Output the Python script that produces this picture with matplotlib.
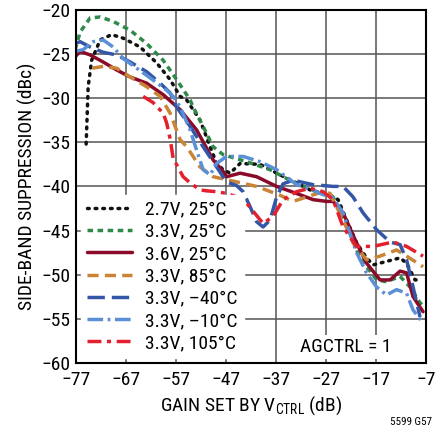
import matplotlib
matplotlib.use("Agg")
import matplotlib.pyplot as plt

plt.rcParams['font.family'] = ['Roboto Condensed', 'DejaVu Sans']

labels = ["2.7V, 25°C", "3.3V, 25°C", "3.6V, 25°C", "3.3V, 85°C",
          "3.3V, –40°C", "3.3V, –10°C", "3.3V, 105°C"]

x_27_25 = [-75.0, -74.6, -73.9, -72.2, -69.9, -67.6, -64.2, -60.9, -58.2, -56.2, -54.9, -52.2, -50.2, -48.9, -47.6, -46.2, -44.2, -40.2, -36.2, -32.9, -30.2, -26.2, -24.6, -22.9, -20.9, -18.9, -17.6, -14.9, -12.2, -10.9, -9.2, -7.9]
y_27_25 = [-35.2, -28.7, -25.7, -23.4, -22.8, -23.2, -24.2, -26.0, -27.9, -29.8, -30.2, -32.5, -35.5, -37.4, -38.1, -38.5, -37.4, -37.5, -38.7, -39.6, -40.4, -41.0, -41.5, -43.8, -46.4, -48.1, -48.9, -48.5, -48.1, -48.7, -50.6, -50.6]

x_33_25 = [-77.2, -76.2, -74.2, -72.2, -69.6, -66.2, -62.9, -59.6, -56.9, -54.2, -53.6, -51.6, -49.6, -47.6, -42.9, -38.2, -33.6, -28.2, -25.6, -23.6, -20.9, -19.6, -18.2, -16.9, -14.9, -12.2, -10.2, -8.2, -7.4]
y_33_25 = [-24.5, -22.5, -20.9, -20.8, -21.3, -22.3, -23.8, -25.7, -27.9, -30.2, -31.0, -33.2, -35.5, -36.4, -37.2, -38.1, -39.5, -40.8, -41.2, -43.4, -47.2, -48.7, -49.6, -50.6, -50.8, -50.2, -51.4, -53.2, -53.6]

x_36_25 = [-77.2, -76.2, -74.2, -71.6, -68.9, -66.2, -62.9, -59.6, -56.2, -52.9, -49.6, -47.6, -46.9, -44.2, -40.9, -36.9, -32.9, -29.6, -26.9, -25.6, -23.6, -20.9, -18.9, -16.2, -14.2, -12.2, -10.9, -9.6, -7.6]
y_36_25 = [-25.3, -24.7, -25.1, -25.9, -26.8, -27.6, -28.3, -29.6, -31.3, -33.6, -37.0, -38.3, -38.9, -38.5, -38.9, -40.0, -40.8, -41.5, -41.7, -41.7, -43.0, -46.4, -48.7, -50.6, -50.6, -49.6, -49.8, -52.5, -54.2]

x_33_85 = [-73.8, -71.6, -68.9, -66.2, -62.9, -60.2, -58.2, -56.2, -54.9, -52.2, -49.6, -45.6, -40.9, -36.2, -33.6, -30.9, -27.6, -26.2, -23.6, -21.6, -18.9, -16.2, -12.9, -10.9, -7.6]
y_33_85 = [-26.6, -26.4, -26.6, -27.6, -28.7, -29.8, -31.7, -34.7, -35.5, -37.8, -38.9, -39.4, -40.0, -41.0, -41.7, -41.2, -40.6, -40.8, -43.8, -46.4, -48.3, -47.9, -47.2, -47.9, -49.1]

x_33_m40 = [-77.2, -76.2, -74.2, -71.6, -68.9, -66.2, -62.9, -60.2, -58.2, -56.9, -54.2, -51.6, -48.9, -46.9, -44.9, -43.6, -42.2, -40.9, -39.6, -38.2, -36.9, -35.6, -33.6, -29.6, -25.6, -23.6, -21.6, -19.6, -16.9, -14.2, -12.2, -10.9, -9.6, -8.2]
y_33_m40 = [-23.8, -23.6, -24.2, -24.8, -25.1, -25.9, -27.0, -28.3, -29.4, -31.0, -33.2, -35.5, -37.8, -39.5, -39.9, -40.6, -42.3, -44.0, -44.6, -43.8, -41.2, -39.7, -39.3, -39.8, -40.0, -40.0, -41.2, -43.0, -44.9, -46.3, -46.6, -48.3, -51.4, -54.8]

x_33_m10 = [-77.2, -75.6, -73.6, -71.6, -69.6, -67.6, -64.9, -62.2, -58.9, -57.6, -56.2, -54.2, -52.9, -51.6, -50.2, -48.9, -46.9, -43.6, -40.2, -36.9, -32.9, -29.6, -28.2, -25.6, -23.6, -20.9, -18.9, -16.9, -14.9, -12.9, -10.9, -9.6, -7.6]
y_33_m10 = [-24.7, -24.5, -23.6, -23.4, -24.2, -25.5, -26.6, -27.7, -29.1, -29.8, -31.0, -33.6, -35.9, -38.1, -38.7, -37.4, -36.6, -36.6, -37.2, -38.1, -39.8, -40.4, -40.8, -41.3, -43.0, -47.5, -49.8, -51.4, -52.3, -51.7, -52.1, -54.0, -55.5]

x_33_105 = [-63.6, -61.6, -59.6, -58.9, -58.2, -57.6, -55.6, -54.2, -52.2, -50.9, -48.9, -46.9, -44.2, -42.9, -39.6, -37.6, -35.6, -32.9, -30.2, -27.6, -25.6, -23.6, -20.9, -17.6, -13.6, -10.9, -7.6]
y_33_105 = [-29.8, -30.5, -31.7, -32.8, -34.6, -36.8, -38.9, -39.6, -40.4, -40.5, -40.6, -40.8, -41.3, -41.9, -44.2, -43.4, -41.5, -40.6, -40.2, -40.6, -41.5, -44.6, -46.8, -46.8, -46.3, -46.8, -47.9]

x_ticks = [-77, -67, -57, -47, -37, -27, -17, -7]
y_ticks = [-60, -55, -50, -45, -40, -35, -30, -25, -20]

series = [
    (x_27_25, y_27_25, '#111111', (0, (0.5, 1.7))),
    (x_33_25, y_33_25, '#2f8a4a', (0, (1.6, 1.3))),
    (x_36_25, y_36_25, '#8b0a2a', '-'),
    (x_33_85, y_33_85, '#c98437', (0, (3.2, 1.8))),
    (x_33_m40, y_33_m40, '#3356a6', (0, (5.0, 2.0))),
    (x_33_m10, y_33_m10, '#5b8fd8', (0, (4.5, 1.3, 0.8, 1.3))),
    (x_33_105, y_33_105, '#e2202e', (0, (4.0, 1.6, 1.2, 1.6))),
]

fig = plt.figure(figsize=(4.48, 4.32), dpi=100)
ax = fig.add_axes([0.170, 0.160, 0.781, 0.817])

for i, ((xs, ys, c, ls), lab) in enumerate(zip(series, labels)):
    cap = 'round' if i == 0 else 'butt'
    ax.plot(xs, ys, color=c, linestyle=ls, linewidth=2.5, label=lab,
            dash_capstyle=cap, solid_capstyle='round')

ax.set_xlim(-77, -7)
ax.set_ylim(-60, -20)
ax.set_xticks(x_ticks)
ax.set_yticks(y_ticks)
ax.set_xticklabels([f"\u2212{abs(v)}" for v in x_ticks])
ax.set_yticklabels([f"\u2212{abs(v)}" for v in y_ticks])
ax.tick_params(length=0, labelsize=14)
ax.tick_params(axis='x', pad=6)
ax.tick_params(axis='y', pad=4)
ax.grid(True, color='#555555', linewidth=1.1)
ax.set_axisbelow(True)
for s in ax.spines.values():
    s.set_linewidth(1.5)
    s.set_color('black')

ax.set_xlabel("GAIN SET BY V$_\\mathregular{CTRL}$ (dB)", fontsize=14, labelpad=4)
ax.set_ylabel("SIDE-BAND SUPPRESSION (dBc)", fontsize=14, labelpad=3)

leg = ax.legend(loc='lower left', fontsize=14, frameon=True, fancybox=False,
                edgecolor='white', framealpha=1.0, borderaxespad=0.25,
                handlelength=2.3, handletextpad=0.7, labelspacing=0.22,
                borderpad=0.3)

ax.text(-23, -58.2, "AGCTRL = 1", fontsize=14, ha='center', va='center',
        bbox=dict(facecolor='white', edgecolor='none', pad=2))

fig.text(0.965, 0.012, "5599 G57", fontsize=8, ha='right', va='bottom')

fig.savefig("out.png", dpi=100)
